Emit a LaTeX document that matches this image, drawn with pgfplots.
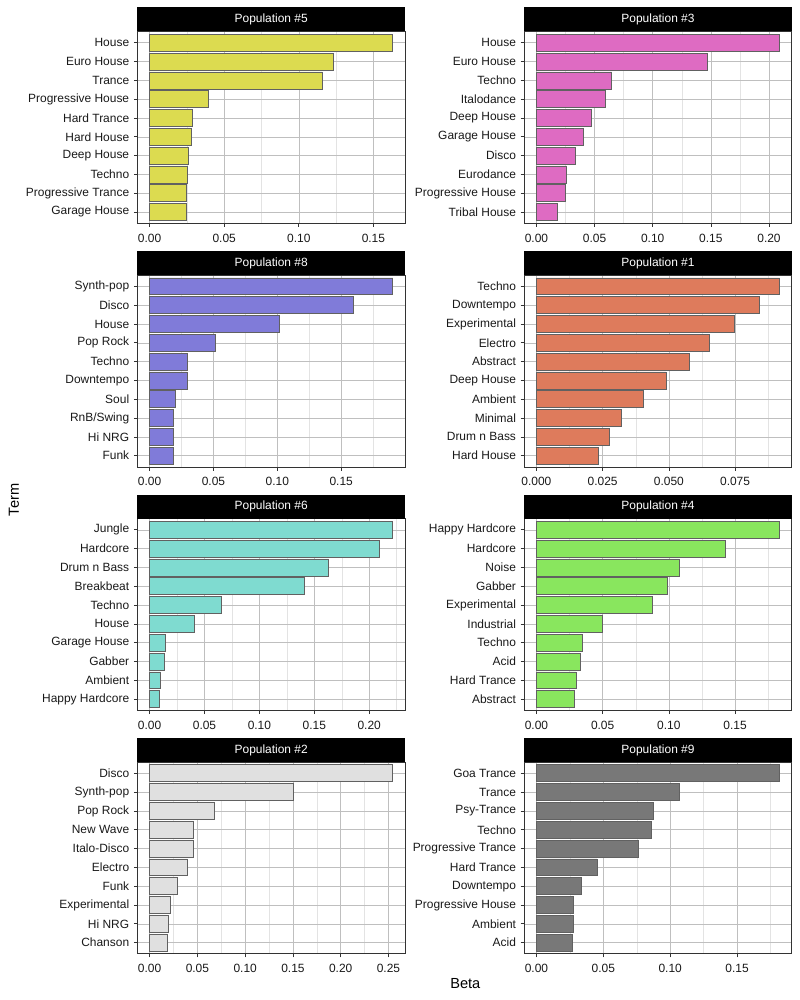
\documentclass[border=0pt]{standalone}
\usepackage{fontspec}
\setmainfont{Liberation Sans}
\usepackage{pgfplots}
\pgfplotsset{compat=1.18}
\definecolor{c5}{RGB}{220,219,80}
\definecolor{c3}{RGB}{222,107,194}
\definecolor{c8}{RGB}{128,123,217}
\definecolor{c1}{RGB}{222,123,92}
\definecolor{c6}{RGB}{127,219,208}
\definecolor{c4}{RGB}{137,230,94}
\definecolor{c2}{RGB}{224,224,224}
\definecolor{c9}{RGB}{120,120,120}
\pgfplotsset{
  pan/.style={
    width=200.6bp, height=143.9bp, scale only axis,
    xbar, bar width=0.9, bar shift=0pt,
    ymin=0.4, ymax=10.6, ytick={1,...,10},
    xtick pos=bottom, ytick pos=left,
    axis line style={draw=black!80, line width=0.6bp},
    tick style={draw=black!80, line width=0.5bp},
    tick align=outside, major tick length=2.7bp, minor tick length=0pt,
    xmajorgrids, ymajorgrids, xminorgrids,
    major grid style={draw=black!25, line width=0.4bp},
    minor grid style={draw=black!11, line width=0.35bp},
    ticklabel style={font=\fontsize{9}{10}\selectfont, text=black!90},
    scaled x ticks=false,
    /pgf/number format/assume math mode=true,
    xticklabel style={yshift=-1.8bp, /pgf/number format/fixed, /pgf/number format/fixed zerofill, /pgf/number format/precision=2},
    anchor=north west,
  },
  bars/.style={fill=#1, draw=black!62, line width=0.5bp},
}
\newcommand\strip[2]{\node[fill=black, text=white, anchor=south west, minimum width=200.6bp, minimum height=18bp, inner sep=0pt, outer sep=0pt, font=\fontsize{9}{10}\selectfont] at (#1.north west) {#2};}
\begin{document}
\begin{tikzpicture}
\path[use as bounding box] (0,0) rectangle (600bp,-750bp);
% Row 1 left: Population #5
\begin{axis}[pan, name=p5, at={(103.1bp,-23.6bp)},
  xmin=-0.00815, xmax=0.17115, xtick={0,0.05,0.10,0.15}, minor xtick={0.025,0.075,0.125},
  yticklabels={Garage House,Progressive Trance,Techno,Deep House,Hard House,Hard Trance,Progressive House,Trance,Euro House,House}]
\addplot[bars=c5] coordinates {(0.163,10) (0.1229,9) (0.1156,8) (0.0396,7) (0.0289,6) (0.0278,5) (0.0258,4) (0.0256,3) (0.0249,2) (0.0248,1)};
\end{axis}
\strip{p5}{Population \#5}
% Row 1 right: Population #3
\begin{axis}[pan, name=p3, at={(393.2bp,-23.6bp)},
  xmin=-0.010455, xmax=0.219555, xtick={0,0.05,0.10,0.15,0.20}, minor xtick={0.025,0.075,0.125,0.175},
  yticklabels={Tribal House,Progressive House,Eurodance,Disco,Garage House,Deep House,Italodance,Techno,Euro House,House}]
\addplot[bars=c3] coordinates {(0.2091,10) (0.1469,9) (0.0646,8) (0.0595,7) (0.0475,6) (0.0403,5) (0.0338,4) (0.0257,3) (0.0252,2) (0.0177,1)};
\end{axis}
\strip{p3}{Population \#3}
% Row 2 left: Population #8
\begin{axis}[pan, name=p8, at={(103.1bp,-206.3bp)},
  xmin=-0.00952, xmax=0.19992, xtick={0,0.05,0.10,0.15}, minor xtick={0.025,0.075,0.125,0.175},
  yticklabels={Funk,Hi NRG,RnB/Swing,Soul,Downtempo,Techno,Pop Rock,House,Disco,Synth-pop}]
\addplot[bars=c8] coordinates {(0.1904,10) (0.1592,9) (0.1013,8) (0.0514,7) (0.0294,6) (0.0293,5) (0.0203,4) (0.0187,3) (0.0186,2) (0.0182,1)};
\end{axis}
\strip{p8}{Population \#8}
% Row 2 right: Population #1
\begin{axis}[pan, name=p1, at={(393.2bp,-206.3bp)},
  xmin=-0.00459, xmax=0.09639, xtick={0,0.025,0.05,0.075}, minor xtick={0.0125,0.0375,0.0625,0.0875},
  xticklabel style={/pgf/number format/precision=3},
  yticklabels={Hard House,Drum n Bass,Minimal,Ambient,Deep House,Abstract,Electro,Experimental,Downtempo,Techno}]
\addplot[bars=c1] coordinates {(0.0918,10) (0.0840,9) (0.0749,8) (0.0651,7) (0.0577,6) (0.0489,5) (0.0404,4) (0.0320,3) (0.0276,2) (0.0233,1)};
\end{axis}
\strip{p1}{Population \#1}
% Row 3 left: Population #6
\begin{axis}[pan, name=p6, at={(103.1bp,-388.9bp)},
  xmin=-0.011075, xmax=0.232575, xtick={0,0.05,0.10,0.15,0.20}, minor xtick={0.025,0.075,0.125,0.175,0.225},
  yticklabels={Happy Hardcore,Ambient,Gabber,Garage House,House,Techno,Breakbeat,Drum n Bass,Hardcore,Jungle}]
\addplot[bars=c6] coordinates {(0.2215,10) (0.2094,9) (0.1631,8) (0.1405,7) (0.0653,6) (0.0411,5) (0.0139,4) (0.0136,3) (0.0100,2) (0.0088,1)};
\end{axis}
\strip{p6}{Population \#6}
% Row 3 right: Population #4
\begin{axis}[pan, name=p4, at={(393.2bp,-388.9bp)},
  xmin=-0.00918, xmax=0.19278, xtick={0,0.05,0.10,0.15}, minor xtick={0.025,0.075,0.125,0.175},
  yticklabels={Abstract,Hard Trance,Acid,Techno,Industrial,Experimental,Gabber,Noise,Hardcore,Happy Hardcore}]
\addplot[bars=c4] coordinates {(0.1836,10) (0.1425,9) (0.1081,8) (0.0986,7) (0.0878,6) (0.0497,5) (0.0346,4) (0.0331,3) (0.0298,2) (0.0286,1)};
\end{axis}
\strip{p4}{Population \#4}
% Row 4 left: Population #2
\begin{axis}[pan, name=p2, at={(103.1bp,-571.5bp)},
  xmin=-0.012725, xmax=0.267225, xtick={0,0.05,0.10,0.15,0.20,0.25}, minor xtick={0.025,0.075,0.125,0.175,0.225},
  yticklabels={Chanson,Hi NRG,Experimental,Funk,Electro,Italo-Disco,New Wave,Pop Rock,Synth-pop,Disco}]
\addplot[bars=c2] coordinates {(0.2545,10) (0.1503,9) (0.0677,8) (0.0462,7) (0.0458,6) (0.0399,5) (0.0285,4) (0.0212,3) (0.0191,2) (0.0190,1)};
\end{axis}
\strip{p2}{Population \#2}
% Row 4 right: Population #9
\begin{axis}[pan, name=p9, at={(393.2bp,-571.5bp)},
  xmin=-0.00909, xmax=0.19089, xtick={0,0.05,0.10,0.15}, minor xtick={0.025,0.075,0.125,0.175},
  yticklabels={Acid,Ambient,Progressive House,Downtempo,Hard Trance,Progressive Trance,Techno,Psy-Trance,Trance,Goa Trance}]
\addplot[bars=c9] coordinates {(0.1818,10) (0.1070,9) (0.0872,8) (0.0859,7) (0.0760,6) (0.0452,5) (0.0338,4) (0.0278,3) (0.0276,2) (0.0266,1)};
\end{axis}
\strip{p9}{Population \#9}
% axis titles
\node[font=\fontsize{11}{12}\selectfont] at (349bp,-737.5bp) {Beta};
\node[font=\fontsize{11}{12}\selectfont, rotate=90] at (10.5bp,-375bp) {Term};
\end{tikzpicture}
\end{document}
